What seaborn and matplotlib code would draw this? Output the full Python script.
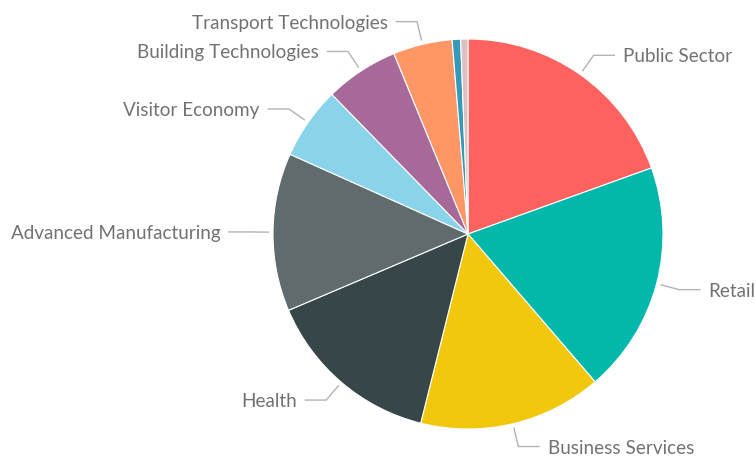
import matplotlib
matplotlib.use("Agg")
import matplotlib.pyplot as plt
import seaborn as sns
import numpy as np

sns.set_theme(style="white")
plt.rcParams['font.family'] = ['Lato', 'DejaVu Sans']

# share of each sector (%), clockwise from 12 o'clock
sectors = ['Public Sector', 'Retail', 'Business Services', 'Health',
           'Advanced Manufacturing', 'Visitor Economy', 'Building Technologies',
           'Transport Technologies', 'Other A', 'Other B']
shares = [19.5, 19.2, 15.2, 14.7, 13.1, 6.0, 6.1, 4.9, 0.7, 0.6]
show_label = [True] * 8 + [False, False]
colors = ['#FD625E', '#01B8AA', '#F2C80F', '#374649', '#5F6B6D',
          '#8AD4EB', '#A66999', '#FE9666', '#3599B8', '#DFBFBF']
palette = sns.color_palette(colors)

W, H = 756, 457
cx, cy, R = 468, 234, 195

fig = plt.figure(figsize=(W / 100, H / 100), dpi=100)
ax = fig.add_axes([0, 0, 1, 1])

wedges, _ = ax.pie(shares, colors=palette, startangle=90, counterclock=False,
                   radius=1.0, center=(0, 0),
                   wedgeprops=dict(edgecolor='white', linewidth=0.8))

ax.set_xlim(-cx / R, (W - cx) / R)
ax.set_ylim(-(H - cy) / R, cy / R)
ax.set_aspect('equal')
ax.axis('off')

for w, name, show in zip(wedges, sectors, show_label):
    if not show:
        continue
    mid = np.deg2rad((w.theta1 + w.theta2) / 2)
    dx, dy = np.cos(mid), np.sin(mid)
    p0 = (1.02 * dx, 1.02 * dy)
    p1 = (1.12 * dx, 1.12 * dy)
    side = 1 if dx >= 0 else -1
    p2 = (p1[0] + side * 0.11, p1[1])
    ax.plot([p0[0], p1[0], p2[0]], [p0[1], p1[1], p2[1]],
            color='#B3B3B3', linewidth=1.0, solid_capstyle='butt')
    ax.text(p2[0] + side * 0.04, p2[1], name, fontsize=13.6, color='#727272',
            ha='left' if side > 0 else 'right', va='center_baseline')

fig.savefig('out.png', dpi=100)
